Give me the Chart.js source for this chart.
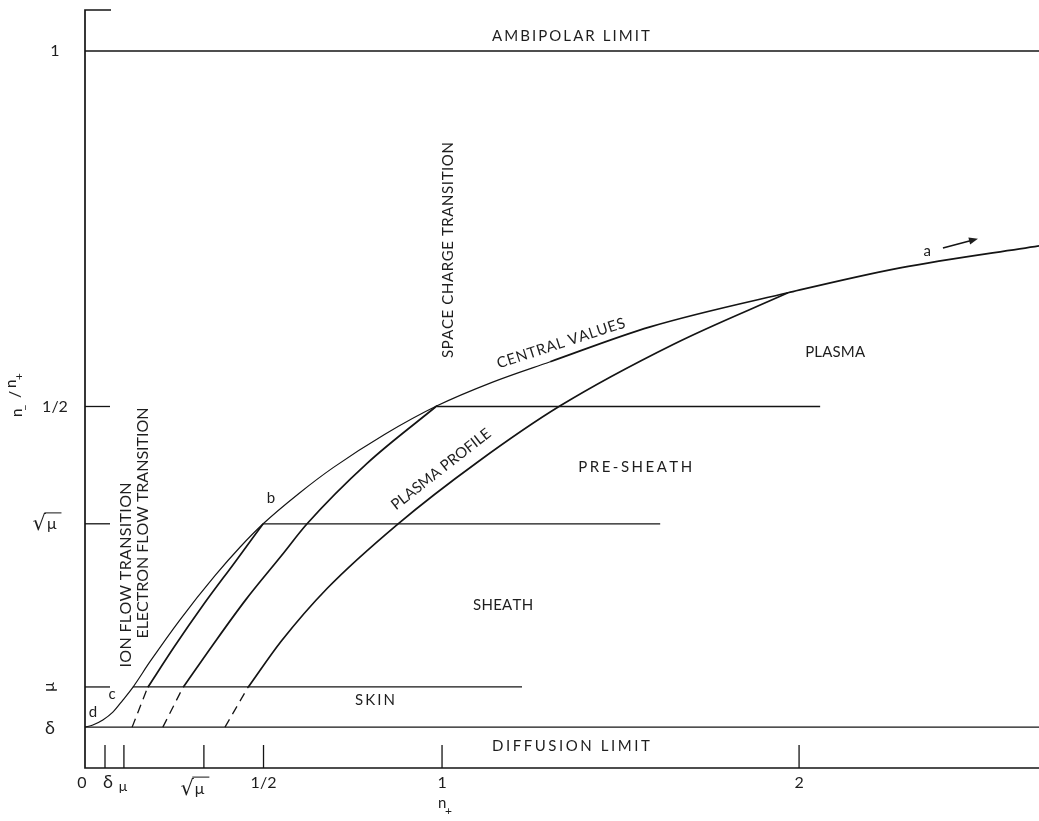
<!DOCTYPE html>
<html>
<head>
<meta charset="utf-8">
<title>Central values and plasma profiles</title>
<script src="https://cdn.jsdelivr.net/npm/chart.js@4.4.1/dist/chart.umd.min.js"></script>
<style>
  html, body { margin: 0; padding: 0; background: #ffffff; }
  #wrap { width: 1039px; height: 821px; }
</style>
</head>
<body>
<div id="wrap"><canvas id="c" width="1039" height="821"></canvas></div>
<script>
// ---- axis ticks ----
const X_TICK_VALUES = [0, 0.056, 0.109, 0.333, 0.5, 1, 2];
const X_TICK_LABELS = ['0', 'δ', 'μ', '√μ', '1/2', '1', '2'];
const Y_TICK_VALUES = [0.049, 0.1055, 0.335, 0.5, 1];
const Y_TICK_LABELS = ['δ', 'μ', '√μ', '1/2', '1'];

// ---- limits (n_/n+) ----
const AMBIPOLAR_LIMIT = 1;
const DIFFUSION_LIMIT = 0.049;

// ---- boundary levels: skin (μ), sheath (√μ), pre-sheath (1/2) ----
const LEVEL_Y     = [0.1055, 0.335, 0.5];
const LEVEL_START = [0.134, 0.499, 0.986];
const LEVEL_END   = [1.224, 1.611, 2.059];

// ---- central values curve (d → c → b → a) ----
const CENTRAL_X = [0, 0.022, 0.050, 0.078, 0.106, 0.134, 0.182, 0.266, 0.364, 0.434, 0.499,
                   0.600, 0.695, 0.840, 0.986, 1.140, 1.303, 1.583, 1.969, 2.283, 2.672];
const CENTRAL_Y = [0.049, 0.052, 0.059, 0.070, 0.087, 0.105, 0.141, 0.200, 0.262, 0.302, 0.335,
                   0.378, 0.414, 0.461, 0.501, 0.534, 0.563, 0.612, 0.660, 0.695, 0.726];

// ---- plasma profiles (solid part above the skin level) ----
const PROFILE1_X = [0.176, 0.250, 0.330, 0.420, 0.499];
const PROFILE1_Y = [0.105, 0.162, 0.220, 0.281, 0.335];
const PROFILE2_X = [0.275, 0.360, 0.450, 0.550, 0.622, 0.790, 0.986];
const PROFILE2_Y = [0.105, 0.166, 0.228, 0.290, 0.335, 0.420, 0.501];
const PROFILE3_X = [0.457, 0.550, 0.680, 0.877, 1.100, 1.331, 1.650, 1.969];
const PROFILE3_Y = [0.105, 0.170, 0.245, 0.335, 0.422, 0.501, 0.588, 0.660];

// ---- dashed continuations through the skin ----
const SKIN_DASH_X0 = [0.132, 0.218, 0.392];
const SKIN_DASH_X1 = [0.176, 0.275, 0.457];

const INK = '#141414';
const FONT = 'Lato, "Open Sans", sans-serif';

const pts = (xs, ys) => xs.map((x, i) => ({ x, y: ys[i] }));

const datasets = [];
function line(data, width, extra) {
  datasets.push(Object.assign({
    data, showLine: true, borderColor: INK, borderWidth: width,
    pointRadius: 0, fill: false, tension: 0, clip: false
  }, extra || {}));
}

// limits
line([{ x: 0, y: AMBIPOLAR_LIMIT }, { x: 2.672, y: AMBIPOLAR_LIMIT }], 1.3);
line([{ x: 0, y: DIFFUSION_LIMIT }, { x: 2.672, y: DIFFUSION_LIMIT }], 1.4);
// levels
LEVEL_Y.forEach((y, i) => line([{ x: LEVEL_START[i], y }, { x: LEVEL_END[i], y }], 1.3));
// central values: heavier once the profiles have merged into it
line(pts(CENTRAL_X, CENTRAL_Y), 1.2, {
  cubicInterpolationMode: 'monotone',
  segment: { borderWidth: s => (s.p0.parsed.x >= 1.3 ? 1.7 : 1.2) }
});
// profiles
line(pts(PROFILE1_X, PROFILE1_Y), 1.7, { cubicInterpolationMode: 'monotone' });
line(pts(PROFILE2_X, PROFILE2_Y), 1.7, { cubicInterpolationMode: 'monotone' });
line(pts(PROFILE3_X, PROFILE3_Y), 1.7, { cubicInterpolationMode: 'monotone' });
// dashed parts
SKIN_DASH_X0.forEach((x0, i) => line([{ x: x0, y: DIFFUSION_LIMIT }, { x: SKIN_DASH_X1[i], y: LEVEL_Y[0] }],
  1.3, { borderDash: [9, 6] }));

// text drawn with spacing stretched to a given length
function spacedText(ctx, text, cx, cy, width, angleDeg, size) {
  ctx.save();
  ctx.translate(cx, cy);
  ctx.rotate(angleDeg * Math.PI / 180);
  ctx.font = size + 'px ' + FONT;
  ctx.textAlign = 'left';
  ctx.textBaseline = 'middle';
  const chars = [...text];
  const widths = chars.map(ch => ctx.measureText(ch).width);
  const total = widths.reduce((a, b) => a + b, 0);
  const gap = chars.length > 1 ? (width - total) / (chars.length - 1) : 0;
  let x = -width / 2;
  chars.forEach((ch, i) => { ctx.fillText(ch, x, 0); x += widths[i] + gap; });
  ctx.restore();
}

function plainText(ctx, text, x, y, size, angleDeg) {
  ctx.save();
  ctx.translate(x, y);
  if (angleDeg) ctx.rotate(angleDeg * Math.PI / 180);
  ctx.font = size + 'px ' + FONT;
  ctx.textAlign = 'center';
  ctx.textBaseline = 'middle';
  ctx.fillText(text, 0, 0);
  ctx.restore();
}

// √μ with a vinculum over the μ, joined to the top of the radical
function sqrtMu(ctx, cx, cy, size) {
  ctx.save();
  ctx.textBaseline = 'alphabetic';
  ctx.textAlign = 'left';
  const rs = Math.round(size * 1.3);
  ctx.font = rs + 'px "DejaVu Sans", sans-serif';
  const rm = ctx.measureText('√');
  const rw = rm.width;
  ctx.font = size + 'px ' + FONT;
  const mw = ctx.measureText('μ').width + 4;
  const left = cx - (rw + mw) / 2;
  const base = cy + size * 0.35;
  ctx.font = rs + 'px "DejaVu Sans", sans-serif';
  ctx.fillText('√', left, base + 1);
  ctx.font = size + 'px ' + FONT;
  ctx.fillText('μ', left + rw + 1, base);
  ctx.lineWidth = 1;
  const asc = rm.actualBoundingBoxAscent || rs * 0.76;
  const top = base + 1 - asc + 0.5;
  ctx.beginPath();
  ctx.moveTo(left + rw - 1.5, top);
  ctx.lineTo(left + rw + mw + 2, top);
  ctx.stroke();
  ctx.restore();
}

const annotate = {
  id: 'annotate',
  afterDatasetsDraw(chart) {
    const ctx = chart.ctx;
    const xs = chart.scales.x, ys = chart.scales.y;
    const X = v => xs.getPixelForValue(v), Y = v => ys.getPixelForValue(v);
    const x0 = X(0), yb = ys.bottom, yt = ys.top;
    ctx.save();
    ctx.strokeStyle = INK;
    ctx.fillStyle = INK;

    // frame: left axis with top cap, bottom axis
    ctx.lineWidth = 1.7;
    ctx.beginPath();
    ctx.moveTo(x0 + 26, yt); ctx.lineTo(x0, yt); ctx.lineTo(x0, yb); ctx.lineTo(xs.right, yb);
    ctx.stroke();

    // inward ticks
    ctx.lineWidth = 1.3;
    Y_TICK_VALUES.forEach(v => {
      if (v === AMBIPOLAR_LIMIT || v === DIFFUSION_LIMIT) return;
      ctx.beginPath(); ctx.moveTo(x0, Y(v)); ctx.lineTo(x0 + 25, Y(v)); ctx.stroke();
    });
    X_TICK_VALUES.forEach(v => {
      if (v === 0) return;
      ctx.beginPath(); ctx.moveTo(X(v), yb); ctx.lineTo(X(v), yb - 23); ctx.stroke();
    });

    // tick labels
    ctx.fillStyle = '#1e1e1e';
    X_TICK_VALUES.forEach((v, i) => {
      const lab = X_TICK_LABELS[i];
      const px = X(v);
      if (lab === '√μ') sqrtMu(ctx, px - 10, yb + 20, 16);
      else if (lab === 'μ') plainText(ctx, lab, px - 1, yb + 18, 14);
      else if (lab === 'δ') plainText(ctx, lab, px + 3, yb + 14, 18);
      else if (lab === '0') plainText(ctx, lab, px - 3, yb + 15, 16);
      else plainText(ctx, lab, px, yb + 15, 16);
    });
    Y_TICK_VALUES.forEach((v, i) => {
      const lab = Y_TICK_LABELS[i];
      const py = Y(v);
      if (lab === '√μ') sqrtMu(ctx, x0 - 39, py, 16);
      else if (lab === 'μ') plainText(ctx, lab, x0 - 36, py, 16, -90);
      else if (lab === 'δ') plainText(ctx, lab, x0 - 35, py + 1, 18);
      else plainText(ctx, lab, x0 - 30, py, 16);
    });

    // axis titles
    ctx.font = '15px ' + FONT;
    ctx.textAlign = 'left'; ctx.textBaseline = 'alphabetic';
    ctx.fillText('n', X(1) - 4, yb + 40);
    ctx.font = '12px ' + FONT;
    ctx.fillText('+', X(1) + 3, yb + 47);

    ctx.save();
    ctx.translate(22, 417);
    ctx.rotate(-Math.PI / 2);
    ctx.font = '15px ' + FONT;
    ctx.textAlign = 'left'; ctx.textBaseline = 'alphabetic';
    ctx.fillText('n', 0, 0);
    ctx.font = '12px ' + FONT;
    ctx.fillText('–', 6, 7);
    ctx.font = '16px ' + FONT;
    ctx.fillText('/', 19, -2);
    ctx.font = '15px ' + FONT;
    ctx.fillText('n', 29, -6);
    ctx.font = '12px ' + FONT;
    ctx.fillText('+', 37, 1);
    ctx.restore();

    // region and boundary labels
    ctx.fillStyle = '#1e1e1e';
    spacedText(ctx, 'AMBIPOLAR LIMIT', X(1.361), Y(1.021), 158, 0, 15);
    spacedText(ctx, 'DIFFUSION LIMIT', X(1.361), Y(0.0225), 158, 0, 15);
    spacedText(ctx, 'SPACE CHARGE TRANSITION', X(1.017), Y(0.720), 216, -90, 15);
    spacedText(ctx, 'CENTRAL VALUES', X(1.333), Y(0.589), 134, -18, 15);
    spacedText(ctx, 'PLASMA', X(2.101), Y(0.577), 60, 0, 15);
    spacedText(ctx, 'PRE-SHEATH', X(1.541), Y(0.415), 114, 0, 15);
    spacedText(ctx, 'SHEATH', X(1.171), Y(0.221), 60, 0, 15);
    spacedText(ctx, 'SKIN', X(0.812), Y(0.087), 40, 0, 15);
    spacedText(ctx, 'PLASMA PROFILE', X(0.997), Y(0.412), 122, -38, 15);
    spacedText(ctx, 'ION FLOW TRANSITION', X(0.115), Y(0.263), 185, -90, 16);
    spacedText(ctx, 'ELECTRON FLOW TRANSITION', X(0.162), Y(0.336), 231, -90, 16);

    // point markers a, b, c, d
    plainText(ctx, 'a', X(2.359), Y(0.719), 15);
    plainText(ctx, 'b', X(0.521), Y(0.371), 15);
    plainText(ctx, 'c', X(0.076), Y(0.096), 15);
    plainText(ctx, 'd', X(0.022), Y(0.070), 15);

    // arrow beside a
    const ax0 = X(2.403), ay0 = Y(0.723), ax1 = X(2.501), ay1 = Y(0.736);
    const ang = Math.atan2(ay1 - ay0, ax1 - ax0);
    ctx.lineWidth = 1.6;
    ctx.beginPath(); ctx.moveTo(ax0, ay0); ctx.lineTo(ax1 - 5 * Math.cos(ang), ay1 - 5 * Math.sin(ang)); ctx.stroke();
    ctx.beginPath();
    ctx.moveTo(ax1, ay1);
    ctx.lineTo(ax1 - 9 * Math.cos(ang) + 3.5 * Math.sin(ang), ay1 - 9 * Math.sin(ang) - 3.5 * Math.cos(ang));
    ctx.lineTo(ax1 - 9 * Math.cos(ang) - 3.5 * Math.sin(ang), ay1 - 9 * Math.sin(ang) + 3.5 * Math.cos(ang));
    ctx.closePath(); ctx.fill();

    ctx.restore();
  }
};

new Chart(document.getElementById('c'), {
  type: 'scatter',
  data: { datasets },
  options: {
    responsive: false,
    devicePixelRatio: 1,
    animation: false,
    events: [],
    layout: { padding: { left: 85, right: 0, top: 10, bottom: 53 } },
    plugins: { legend: { display: false }, tooltip: { enabled: false } },
    scales: {
      x: { type: 'linear', min: 0, max: 2.672, display: false },
      y: { type: 'linear', min: -0.0085, max: 1.0577, display: false }
    }
  },
  plugins: [annotate]
});
</script>
</body>
</html>
